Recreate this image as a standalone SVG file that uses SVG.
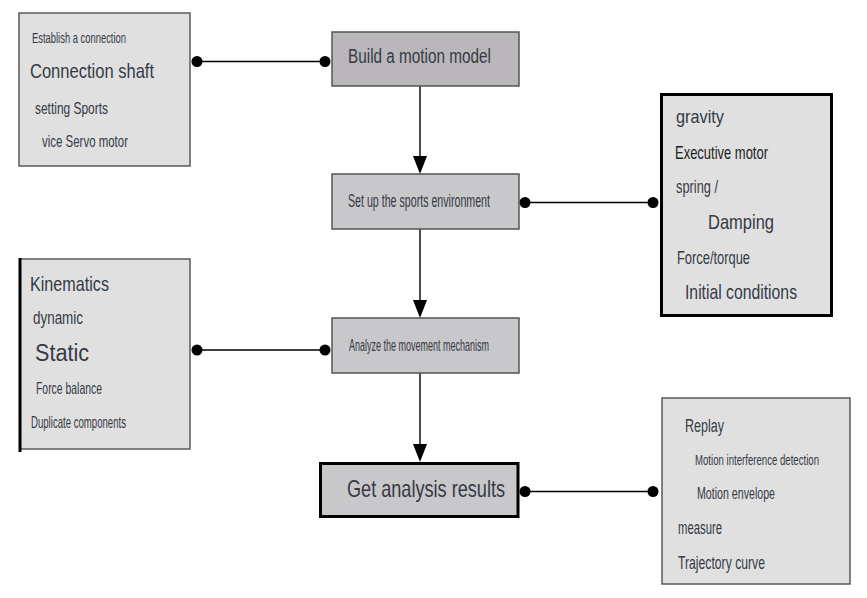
<svg xmlns="http://www.w3.org/2000/svg" width="867" height="598" viewBox="0 0 867 598">
<style>
text{font-family:"Liberation Sans",Arial,sans-serif;fill:#353a45}
.note{fill:#e0e0e0;stroke:#5a5a5a;stroke-width:1.5}
.proc{fill:#c8c7ca;stroke:#555;stroke-width:1.5}
.bold{stroke:#000;stroke-width:3}
.link{stroke:#000;stroke-width:1.4;fill:none}
.dot{fill:#000}
</style>
<rect width="867" height="598" fill="#fff"/>
<g id="connectors">
<line class="link" x1="197" y1="61.5" x2="325" y2="61.5"/>
<circle class="dot" cx="197" cy="61.5" r="5.5"/><circle class="dot" cx="325" cy="61.5" r="5.5"/>
<line class="link" x1="525" y1="202.5" x2="653" y2="202.5"/>
<circle class="dot" cx="525" cy="202.5" r="5.5"/><circle class="dot" cx="653" cy="202.5" r="5.5"/>
<line class="link" x1="197" y1="350" x2="325" y2="350"/>
<circle class="dot" cx="197" cy="350" r="5.5"/><circle class="dot" cx="325" cy="350" r="5.5"/>
<line class="link" x1="525" y1="491.5" x2="653" y2="491.5"/>
<circle class="dot" cx="525" cy="491.5" r="5.5"/><circle class="dot" cx="653" cy="491.5" r="5.5"/>
<line class="link" x1="420" y1="86" x2="420" y2="158"/>
<path d="M413,156 L427,156 L420,174 Z" fill="#000"/>
<line class="link" x1="420" y1="229" x2="420" y2="302"/>
<path d="M413,300 L427,300 L420,318 Z" fill="#000"/>
<line class="link" x1="420" y1="373" x2="420" y2="446"/>
<path d="M413,444 L427,444 L420,462 Z" fill="#000"/>
</g>
<g id="n1">
<rect class="note" x="19" y="13" width="171" height="153"/>
<text x="32" y="43" font-size="15.5" textLength="94" lengthAdjust="spacingAndGlyphs">Establish a connection</text>
<text x="30" y="78" font-size="21" textLength="124" lengthAdjust="spacingAndGlyphs">Connection shaft</text>
<text x="35" y="114" font-size="16.5" textLength="73" lengthAdjust="spacingAndGlyphs">setting Sports</text>
<text x="42" y="147" font-size="16.5" textLength="86" lengthAdjust="spacingAndGlyphs">vice Servo motor</text>
</g>
<g id="n2">
<rect class="proc" x="332" y="32" width="187" height="54" style="fill:#b9b7ba"/>
<text x="348" y="63" font-size="20" textLength="143" lengthAdjust="spacingAndGlyphs">Build a motion model</text>
</g>
<g id="n3">
<rect class="proc" x="332" y="174" width="187" height="55"/>
<text x="348" y="207" font-size="17.5" textLength="142" lengthAdjust="spacingAndGlyphs">Set up the sports environment</text>
</g>
<g id="n4">
<rect class="note bold" x="661.5" y="94.5" width="170" height="221"/>
<text x="676" y="123" font-size="19" textLength="48" lengthAdjust="spacingAndGlyphs">gravity</text>
<text x="675" y="159" font-size="18.5" textLength="93" lengthAdjust="spacingAndGlyphs" style="fill:#222">Executive motor</text>
<text x="676" y="193" font-size="19" textLength="42" lengthAdjust="spacingAndGlyphs">spring /</text>
<text x="708" y="229" font-size="21" textLength="66" lengthAdjust="spacingAndGlyphs">Damping</text>
<text x="677" y="264" font-size="18.5" textLength="73" lengthAdjust="spacingAndGlyphs">Force/torque</text>
<text x="685" y="299" font-size="21" textLength="112" lengthAdjust="spacingAndGlyphs">Initial conditions</text>
</g>
<g id="n5">
<rect class="note" x="20" y="259" width="170" height="190"/>
<line x1="20" y1="258" x2="20" y2="452" stroke="#000" stroke-width="3"/>
<text x="30" y="291" font-size="21" textLength="79" lengthAdjust="spacingAndGlyphs">Kinematics</text>
<text x="33" y="324" font-size="17.5" textLength="50" lengthAdjust="spacingAndGlyphs">dynamic</text>
<text x="35" y="361" font-size="23" textLength="54" lengthAdjust="spacingAndGlyphs">Static</text>
<text x="36" y="394" font-size="16.5" textLength="66" lengthAdjust="spacingAndGlyphs">Force balance</text>
<text x="31" y="428" font-size="16.5" textLength="95" lengthAdjust="spacingAndGlyphs">Duplicate components</text>
</g>
<g id="n6">
<rect class="proc" x="332" y="318" width="187" height="55"/>
<text x="349" y="351" font-size="16.5" textLength="140" lengthAdjust="spacingAndGlyphs">Analyze the movement mechanism</text>
</g>
<g id="n7">
<rect class="proc bold" x="320.5" y="463.5" width="197.5" height="53"/>
<text x="347" y="497" font-size="24" textLength="158" lengthAdjust="spacingAndGlyphs">Get analysis results</text>
</g>
<g id="n8">
<rect class="note" x="662" y="398" width="188" height="186"/>
<text x="685" y="432" font-size="19" textLength="39" lengthAdjust="spacingAndGlyphs">Replay</text>
<text x="695" y="465" font-size="15.5" textLength="124" lengthAdjust="spacingAndGlyphs">Motion interference detection</text>
<text x="697" y="499" font-size="16.5" textLength="78" lengthAdjust="spacingAndGlyphs">Motion envelope</text>
<text x="678" y="534" font-size="17.5" textLength="44" lengthAdjust="spacingAndGlyphs">measure</text>
<text x="678" y="569" font-size="19" textLength="87" lengthAdjust="spacingAndGlyphs">Trajectory curve</text>
</g>
</svg>
